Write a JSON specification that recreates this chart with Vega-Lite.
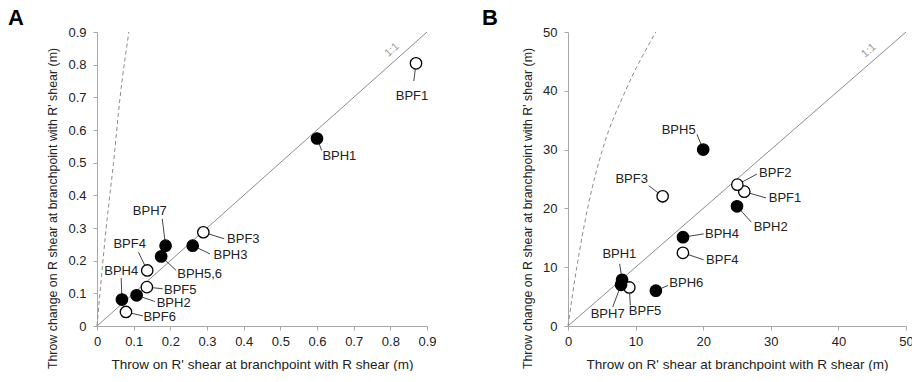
{
  "$schema": "https://vega.github.io/schema/vega-lite/v6.json",
  "padding": {"left": 8, "top": 7, "right": 0, "bottom": 0},
  "spacing": 45,
  "config": {
    "font": "Liberation Sans",
    "view": {"stroke": null},
    "axis": {
      "grid": false,
      "domainColor": "#a8a8a8",
      "tickColor": "#a8a8a8",
      "tickSize": 4,
      "labelFontSize": 13,
      "labelColor": "#222222",
      "titleFontWeight": "normal",
      "titleColor": "#222222",
      "labelOverlap": false,
      "labelFlush": false,
      "tickCount": 20
    },
    "axisX": {"labelPadding": 5, "titlePadding": 9, "titleFontSize": 13.5},
    "axisY": {"labelPadding": 7, "titlePadding": 8, "titleY": 176, "titleFontSize": 12.4},
    "title": {"anchor": "start", "frame": "group", "fontSize": 22, "fontWeight": "bold", "color": "#000000", "offset": -4}
  },
  "datasets": {
    "ptsA": [
      {"name": "BPF1", "x": 0.87, "y": 0.804, "type": "open", "ex": 0.864, "ey": 0.75, "lx": 0.859, "ly": 0.705},
      {"name": "BPF3", "x": 0.29, "y": 0.287, "type": "open", "ex": 0.347, "ey": 0.267, "lx": 0.399, "ly": 0.267},
      {"name": "BPF4", "x": 0.137, "y": 0.17, "type": "open", "ex": 0.113, "ey": 0.226, "lx": 0.089, "ly": 0.251},
      {"name": "BPF5", "x": 0.136, "y": 0.119, "type": "open", "ex": 0.179, "ey": 0.114, "lx": 0.227, "ly": 0.111},
      {"name": "BPF6", "x": 0.079, "y": 0.043, "type": "open", "ex": 0.125, "ey": 0.031, "lx": 0.171, "ly": 0.027},
      {"name": "BPH1", "x": 0.6, "y": 0.574, "type": "filled", "ex": 0.613, "ey": 0.537, "lx": 0.661, "ly": 0.521},
      {"name": "BPH3", "x": 0.261, "y": 0.246, "type": "filled", "ex": 0.308, "ey": 0.221, "lx": 0.364, "ly": 0.216},
      {"name": "BPH7", "x": 0.187, "y": 0.246, "type": "filled", "ex": 0.178, "ey": 0.328, "lx": 0.144, "ly": 0.351},
      {"name": "BPH5,6", "x": 0.175, "y": 0.213, "type": "filled", "ex": 0.216, "ey": 0.17, "lx": 0.28, "ly": 0.158},
      {"name": "BPH2", "x": 0.108, "y": 0.094, "type": "filled", "ex": 0.158, "ey": 0.075, "lx": 0.209, "ly": 0.07},
      {"name": "BPH4", "x": 0.068, "y": 0.081, "type": "filled", "ex": 0.066, "ey": 0.147, "lx": 0.066, "ly": 0.167}
    ],
    "ptsB": [
      {"name": "BPF3", "x": 14.0, "y": 22.06, "type": "open", "ex": 11.93, "ey": 23.87, "lx": 9.42, "ly": 25.0},
      {"name": "BPF1", "x": 26.08, "y": 22.85, "type": "open", "ex": 29.29, "ey": 21.78, "lx": 32.1, "ly": 21.8},
      {"name": "BPF2", "x": 25.05, "y": 24.04, "type": "open", "ex": 27.96, "ey": 25.85, "lx": 30.67, "ly": 26.1},
      {"name": "BPF4", "x": 17.0, "y": 12.44, "type": "open", "ex": 20.07, "ey": 11.26, "lx": 22.83, "ly": 11.14},
      {"name": "BPF5", "x": 9.07, "y": 6.56, "type": "open", "ex": 9.22, "ey": 3.5, "lx": 11.4, "ly": 2.55},
      {"name": "BPH5", "x": 20.0, "y": 30.0, "type": "filled", "ex": 19.08, "ey": 32.6, "lx": 16.37, "ly": 33.4},
      {"name": "BPH2", "x": 25.0, "y": 20.36, "type": "filled", "ex": 27.12, "ey": 17.65, "lx": 29.98, "ly": 16.85},
      {"name": "BPH4", "x": 17.01, "y": 15.1, "type": "filled", "ex": 20.07, "ey": 15.67, "lx": 22.78, "ly": 15.67},
      {"name": "BPH6", "x": 13.0, "y": 6.0, "type": "filled", "ex": 14.79, "ey": 6.9, "lx": 17.5, "ly": 7.35},
      {"name": "BPH7", "x": 7.85, "y": 7.01, "type": "filled", "ex": 6.61, "ey": 3.22, "lx": 5.87, "ly": 2.1},
      {"name": "BPH1", "x": 8.0, "y": 7.86, "type": "filled", "ex": 7.64, "ey": 10.58, "lx": 7.6, "ly": 12.2}
    ],
    "dashA": [
      {"x": 0, "y": 0}, {"x": 0.008, "y": 0.1}, {"x": 0.025, "y": 0.3}, {"x": 0.045, "y": 0.5}, {"x": 0.063, "y": 0.7}, {"x": 0.087, "y": 0.9}
    ],
    "dashB": [
      {"x": 0, "y": 0}, {"x": 1.3, "y": 10}, {"x": 2.9, "y": 20}, {"x": 5.1, "y": 30}, {"x": 8.5, "y": 40}, {"x": 13.0, "y": 50}
    ],
    "oneA": [{"x": 0, "y": 0, "x2": 0.9, "y2": 0.9, "tx": 0.805, "ty": 0.845, "t": "1:1"}],
    "oneB": [{"x": 0, "y": 0, "x2": 50, "y2": 50, "tx": 44.5, "ty": 46.8, "t": "1:1"}]
  },
  "hconcat": [
    {
      "width": 330,
      "height": 294,
      "title": {"text": "A", "dx": -89},
      "layer": [
        {
          "data": {"name": "oneA"},
          "mark": {"type": "rule", "color": "#8c8c8c", "strokeWidth": 1},
          "encoding": {
            "x": {"field": "x", "type": "quantitative", "scale": {"domain": [0, 0.9], "nice": false}, "axis": {"values": [0, 0.1, 0.2, 0.3, 0.4, 0.5, 0.6, 0.7, 0.8, 0.9], "format": "~g", "title": "Throw on R' shear at branchpoint with R shear (m)"}},
            "y": {"field": "y", "type": "quantitative", "scale": {"domain": [0, 0.9], "nice": false}, "axis": {"values": [0, 0.1, 0.2, 0.3, 0.4, 0.5, 0.6, 0.7, 0.8, 0.9], "format": "~g", "title": "Throw change on R shear at branchpoint with R' shear (m)"}},
            "x2": {"field": "x2"},
            "y2": {"field": "y2"}
          }
        },
        {
          "data": {"name": "oneA"},
          "mark": {"type": "text", "color": "#9a9a9a", "fontSize": 11, "angle": 318},
          "encoding": {
            "x": {"field": "tx", "type": "quantitative"},
            "y": {"field": "ty", "type": "quantitative"},
            "text": {"field": "t"}
          }
        },
        {
          "data": {"name": "dashA"},
          "mark": {"type": "line", "color": "#8c8c8c", "strokeWidth": 1, "strokeDash": [4, 3], "interpolate": "monotone"},
          "encoding": {
            "x": {"field": "x", "type": "quantitative"},
            "y": {"field": "y", "type": "quantitative"},
            "order": {"field": "y"}
          }
        },
        {
          "data": {"name": "ptsA"},
          "mark": {"type": "rule", "color": "#444444", "strokeWidth": 1},
          "encoding": {
            "x": {"field": "x", "type": "quantitative"},
            "y": {"field": "y", "type": "quantitative"},
            "x2": {"field": "ex"},
            "y2": {"field": "ey"}
          }
        },
        {
          "data": {"name": "ptsA"},
          "mark": {"type": "point", "filled": true, "size": 130, "stroke": "#000000", "strokeWidth": 1.3, "opacity": 1},
          "encoding": {
            "x": {"field": "x", "type": "quantitative"},
            "y": {"field": "y", "type": "quantitative"},
            "fill": {"field": "type", "type": "nominal", "scale": {"domain": ["open", "filled"], "range": ["#ffffff", "#000000"]}, "legend": null}
          }
        },
        {
          "data": {"name": "ptsA"},
          "mark": {"type": "text", "fontSize": 13, "color": "#222222"},
          "encoding": {
            "x": {"field": "lx", "type": "quantitative"},
            "y": {"field": "ly", "type": "quantitative"},
            "text": {"field": "name"}
          }
        }
      ]
    },
    {
      "width": 338,
      "height": 294,
      "title": {"text": "B", "dx": -86},
      "layer": [
        {
          "data": {"name": "oneB"},
          "mark": {"type": "rule", "color": "#8c8c8c", "strokeWidth": 1},
          "encoding": {
            "x": {"field": "x", "type": "quantitative", "scale": {"domain": [0, 50], "nice": false}, "axis": {"values": [0, 10, 20, 30, 40, 50], "title": "Throw on R' shear at branchpoint with R shear (m)"}},
            "y": {"field": "y", "type": "quantitative", "scale": {"domain": [0, 50], "nice": false}, "axis": {"values": [0, 10, 20, 30, 40, 50], "title": "Throw change on R shear at branchpoint with R' shear (m)"}},
            "x2": {"field": "x2"},
            "y2": {"field": "y2"}
          }
        },
        {
          "data": {"name": "oneB"},
          "mark": {"type": "text", "color": "#9a9a9a", "fontSize": 11, "angle": 319},
          "encoding": {
            "x": {"field": "tx", "type": "quantitative"},
            "y": {"field": "ty", "type": "quantitative"},
            "text": {"field": "t"}
          }
        },
        {
          "data": {"name": "dashB"},
          "mark": {"type": "line", "color": "#8c8c8c", "strokeWidth": 1, "strokeDash": [4, 3], "interpolate": "monotone"},
          "encoding": {
            "x": {"field": "x", "type": "quantitative"},
            "y": {"field": "y", "type": "quantitative"},
            "order": {"field": "y"}
          }
        },
        {
          "data": {"name": "ptsB"},
          "mark": {"type": "rule", "color": "#444444", "strokeWidth": 1},
          "encoding": {
            "x": {"field": "x", "type": "quantitative"},
            "y": {"field": "y", "type": "quantitative"},
            "x2": {"field": "ex"},
            "y2": {"field": "ey"}
          }
        },
        {
          "data": {"name": "ptsB"},
          "mark": {"type": "point", "filled": true, "size": 130, "stroke": "#000000", "strokeWidth": 1.3, "opacity": 1},
          "encoding": {
            "x": {"field": "x", "type": "quantitative"},
            "y": {"field": "y", "type": "quantitative"},
            "fill": {"field": "type", "type": "nominal", "scale": {"domain": ["open", "filled"], "range": ["#ffffff", "#000000"]}, "legend": null}
          }
        },
        {
          "data": {"name": "ptsB"},
          "mark": {"type": "text", "fontSize": 13, "color": "#222222"},
          "encoding": {
            "x": {"field": "lx", "type": "quantitative"},
            "y": {"field": "ly", "type": "quantitative"},
            "text": {"field": "name"}
          }
        }
      ]
    }
  ]
}
